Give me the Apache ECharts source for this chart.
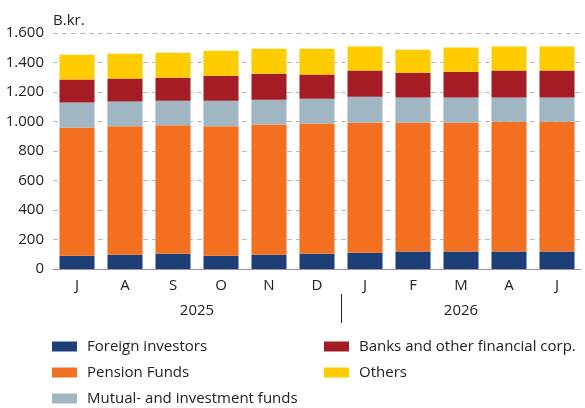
<!DOCTYPE html>
<html>
<head>
<meta charset="utf-8">
<script src="https://cdn.jsdelivr.net/npm/echarts@6/dist/echarts.min.js"></script>
<style>
  html, body { margin: 0; padding: 0; background: #fff; }
  #chart { width: 585px; height: 408px; }
</style>
</head>
<body>
<div id="chart"></div>
<script>
// months and yearly grouping under the axis
var months = ['J', 'A', 'S', 'O', 'N', 'D', 'J', 'F', 'M', 'A', 'J'];
var years = ['2025', '2026'];
var yearStart = [0, 6];
var yearEnd = [5, 10];

// B.kr., stacked
var foreign = [90, 97, 104, 90, 97, 104, 111, 118, 118, 118, 118];
var pension = [870, 870, 870, 877, 882, 882, 881, 874, 874, 881, 881];
var mutual = [168, 168, 167, 174, 169, 169, 176, 170, 170, 163, 163];
var banks = [156, 156, 156, 170, 176, 163, 177, 169, 176, 183, 183];
var others = [169, 169, 169, 169, 170, 176, 163, 156, 163, 163, 163];

var names = ['Foreign investors', 'Pension Funds', 'Mutual- and investment funds',
             'Banks and other financial corp.', 'Others'];
var colors = ['#1d3f78', '#f37021', '#a0b6c2', '#a51c24', '#ffcc00'];
var values = [foreign, pension, mutual, banks, others];

var font = 'Open Sans';
var myChart = echarts.init(document.getElementById('chart'));

var series = [];
for (var i = 0; i < names.length; i++) {
    series.push({
        name: names[i],
        type: 'bar',
        stack: 'total',
        barCategoryGap: '27%',
        itemStyle: { color: colors[i] },
        data: values[i]
    });
}

var legendBase = {
    orient: 'vertical',
    padding: 0,
    itemWidth: 25,
    itemHeight: 10,
    itemGap: 11,
    icon: 'rect',
    textStyle: { fontFamily: font, fontSize: 15, color: '#222', padding: [0, 0, 0, 5] }
};

option = {
    animation: false,
    color: colors,
    grid: { left: 53, right: 4, top: 33, bottom: 139 },
    legend: [
        Object.assign({ left: 52, top: 339, data: names.slice(0, 3) }, legendBase),
        Object.assign({ left: 324, top: 339, data: names.slice(3) }, legendBase)
    ],
    xAxis: {
        type: 'category',
        data: months,
        axisLine: { lineStyle: { color: '#999' } },
        axisTick: { length: 6, lineStyle: { color: '#999' } },
        axisLabel: { fontFamily: font, fontSize: 15, color: '#222', margin: 9 }
    },
    yAxis: {
        type: 'value',
        min: 0,
        max: 1600,
        interval: 200,
        name: 'B.kr.',
        nameGap: 5,
        nameTextStyle: { fontFamily: font, fontSize: 15, color: '#222', align: 'left' },
        axisLine: { show: false },
        axisTick: { show: false },
        axisLabel: {
            fontFamily: font, fontSize: 15, color: '#222', margin: 9,
            formatter: function (v) { return String(v).replace(/\B(?=(\d{3})+(?!\d))/g, '.'); }
        },
        splitLine: { lineStyle: { color: '#bbb', type: [5, 4] } }
    },
    series: series
};

myChart.setOption(option);

// year labels and separator, placed through the category scale
var g = [];
var step = myChart.convertToPixel({ xAxisIndex: 0 }, 1) - myChart.convertToPixel({ xAxisIndex: 0 }, 0);
for (var k = 0; k < years.length; k++) {
    var x0 = myChart.convertToPixel({ xAxisIndex: 0 }, yearStart[k]);
    var x1 = myChart.convertToPixel({ xAxisIndex: 0 }, yearEnd[k]);
    g.push({
        type: 'text',
        x: (x0 + x1) / 2,
        y: 311,
        style: { text: years[k], fontFamily: font, fontSize: 15, fill: '#222', align: 'center', verticalAlign: 'middle' }
    });
    if (k > 0) {
        var xs = Math.round(x0 - step / 2) + 0.5;
        g.push({
            type: 'line',
            shape: { x1: xs, y1: 294, x2: xs, y2: 323 },
            style: { stroke: '#222', lineWidth: 1 }
        });
    }
}
myChart.setOption({ graphic: g });
</script>
</body>
</html>
